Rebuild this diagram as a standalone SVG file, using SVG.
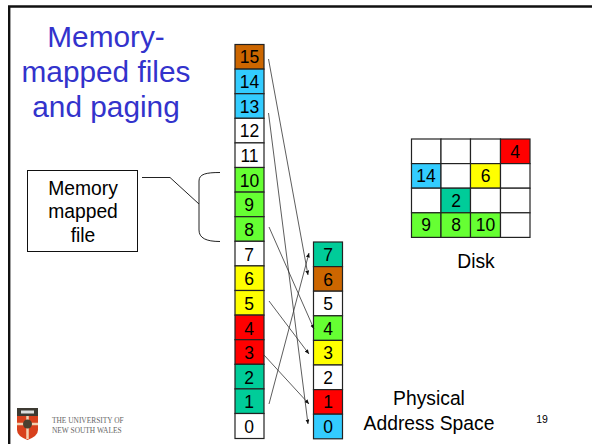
<svg xmlns="http://www.w3.org/2000/svg" width="592" height="444" viewBox="0 0 592 444">
<style>
text{font-family:"Liberation Sans",Arial,sans-serif;text-anchor:middle;fill:#000}
.n{font-size:17.5px}
.c{stroke:#222;stroke-width:1.2}
.k{fill:none;stroke:#222;stroke-width:1}
.t{font-size:29.8px;fill:#3333cc}
.l{font-size:19.3px}
.s{font-family:"Liberation Serif",serif;font-size:7.4px;fill:#666;text-anchor:start}
.a{fill:none;stroke:#333;stroke-width:.8;marker-end:url(#ah)}
.o{fill:#cc6600}.b{fill:#33ccff}.w{fill:#fff}.g{fill:#66ff33}.y{fill:#ffff00}.r{fill:#ff0000}.e{fill:#00cc99}
</style>
<defs>
<marker id="ah" markerWidth="5" markerHeight="5" refX="4.500" refY="2" orient="auto" markerUnits="userSpaceOnUse"><path d="M0 0L4.500 2L0 4z" fill="#111"/></marker>
</defs>
<rect width="592" height="444" fill="#fff"/>
<g id="frame"><path d="M592 6.500H9.200V444" fill="none" stroke="#111" stroke-width="2.400"/></g>
<g id="title">
<text class="t" x="106" y="47">Memory-</text>
<text class="t" x="106" y="82">mapped files</text>
<text class="t" x="106" y="117">and paging</text>
</g>
<g id="virtual-pages">
<g id="v15"><rect class="c o" x="235" y="44.500" width="29" height="24.600"/><text class="n" x="249.500" y="63">15</text></g>
<g id="v14"><rect class="c b" x="235" y="69.100" width="29" height="24.600"/><text class="n" x="249.500" y="88">14</text></g>
<g id="v13"><rect class="c b" x="235" y="93.700" width="29" height="24.600"/><text class="n" x="249.500" y="113">13</text></g>
<g id="v12"><rect class="c w" x="235" y="118.300" width="29" height="24.600"/><text class="n" x="249.500" y="137">12</text></g>
<g id="v11"><rect class="c w" x="235" y="142.900" width="29" height="24.600"/><text class="n" x="249.500" y="162">11</text></g>
<g id="v10"><rect class="c g" x="235" y="167.500" width="29" height="24.600"/><text class="n" x="249.500" y="187">10</text></g>
<g id="v9"><rect class="c g" x="235" y="192.100" width="29" height="24.600"/><text class="n" x="249" y="211">9</text></g>
<g id="v8"><rect class="c g" x="235" y="216.700" width="29" height="24.600"/><text class="n" x="249" y="236">8</text></g>
<g id="v7"><rect class="c w" x="235" y="241.300" width="29" height="24.600"/><text class="n" x="249" y="261">7</text></g>
<g id="v6"><rect class="c y" x="235" y="265.900" width="29" height="24.600"/><text class="n" x="249" y="285">6</text></g>
<g id="v5"><rect class="c y" x="235" y="290.500" width="29" height="24.600"/><text class="n" x="249" y="310">5</text></g>
<g id="v4"><rect class="c r" x="235" y="315.100" width="29" height="24.600"/><text class="n" x="249" y="335">4</text></g>
<g id="v3"><rect class="c r" x="235" y="339.700" width="29" height="24.600"/><text class="n" x="249" y="359">3</text></g>
<g id="v2"><rect class="c e" x="235" y="364.300" width="29" height="24.600"/><text class="n" x="249" y="384">2</text></g>
<g id="v1"><rect class="c e" x="235" y="388.900" width="29" height="24.600"/><text class="n" x="249" y="408">1</text></g>
<g id="v0"><rect class="c w" x="235" y="413.500" width="29" height="25"/><text class="n" x="249" y="433">0</text></g>
</g>
<g id="physical-pages">
<g id="p7"><rect class="c e" x="313.500" y="242" width="29" height="24.600"/><text class="n" x="328" y="261">7</text></g>
<g id="p6"><rect class="c o" x="313.500" y="266.600" width="29" height="24.600"/><text class="n" x="328" y="286">6</text></g>
<g id="p5"><rect class="c w" x="313.500" y="291.200" width="29" height="24.600"/><text class="n" x="328" y="310">5</text></g>
<g id="p4"><rect class="c g" x="313.500" y="315.800" width="29" height="24.600"/><text class="n" x="328" y="335">4</text></g>
<g id="p3"><rect class="c y" x="313.500" y="340.400" width="29" height="24.600"/><text class="n" x="328" y="359">3</text></g>
<g id="p2"><rect class="c w" x="313.500" y="365" width="29" height="24.600"/><text class="n" x="328" y="384">2</text></g>
<g id="p1"><rect class="c r" x="313.500" y="389.600" width="29" height="24.600"/><text class="n" x="328" y="408">1</text></g>
<g id="p0"><rect class="c b" x="313.500" y="414.200" width="29" height="24.600"/><text class="n" x="328" y="433">0</text></g>
</g>
<g id="disk">
<g id="d-r0"><rect class="c w" x="411.500" y="139" width="29.500" height="24.600"/><rect class="c w" x="441" y="139" width="29.500" height="24.600"/><rect class="c w" x="470.500" y="139" width="30" height="24.600"/><rect class="c r" x="500.500" y="139" width="29.500" height="24.600"/><text class="n" x="515" y="158">4</text></g>
<g id="d-r1"><rect class="c b" x="411.500" y="163.600" width="29.500" height="24.600"/><rect class="c w" x="441" y="163.600" width="29.500" height="24.600"/><rect class="c y" x="470.500" y="163.600" width="30" height="24.600"/><rect class="c w" x="500.500" y="163.600" width="29.500" height="24.600"/><text class="n" x="426" y="182">14</text><text class="n" x="485.500" y="182">6</text></g>
<g id="d-r2"><rect class="c w" x="411.500" y="188.200" width="29.500" height="24.600"/><rect class="c e" x="441" y="188.200" width="29.500" height="24.600"/><rect class="c w" x="470.500" y="188.200" width="30" height="24.600"/><rect class="c w" x="500.500" y="188.200" width="29.500" height="24.600"/><text class="n" x="456" y="207">2</text></g>
<g id="d-r3"><rect class="c g" x="411.500" y="212.800" width="29.500" height="24.600"/><rect class="c g" x="441" y="212.800" width="29.500" height="24.600"/><rect class="c g" x="470.500" y="212.800" width="30" height="24.600"/><rect class="c w" x="500.500" y="212.800" width="29.500" height="24.600"/><text class="n" x="426" y="231">9</text><text class="n" x="456" y="231">8</text><text class="n" x="485.500" y="231">10</text></g>
</g>
<g id="disk-label"><text class="l" x="476" y="268">Disk</text></g>
<g id="mmf-box"><rect x="27.500" y="170.500" width="110" height="81" fill="#fff" stroke="#111" stroke-width="1"/><text class="l" x="83" y="195">Memory</text><text class="l" x="83" y="218">mapped</text><text class="l" x="83" y="242">file</text></g>
<g id="connectors">
<path class="k" d="M142 177.500H170L199 204"/>
<path class="k" d="M220 172.500C206 172.500 199 174 199 181V230C199 238 206 241.500 220 241.500"/>
<path class="a" d="M268.500 59L308 275"/>
<path class="a" d="M268.500 113L308 424"/>
<path class="a" d="M269 227L314 329"/>
<path class="a" d="M269 301L309 354"/>
<path class="a" d="M264 355L309 404"/>
<path class="a" d="M269 404L309 253"/>
</g>
<g id="physical-label"><text class="l" x="429" y="405">Physical</text><text class="l" x="429" y="430">Address Space</text></g>
<g id="page-number"><text x="542" y="423" font-size="10.500">19</text></g>
<g id="logo">
<path d="M17 408H38V430Q38 436 27.500 440Q17 436 17 430Z" fill="#d8401c"/>
<rect x="17" y="408" width="21" height="8" fill="#3d3a32"/>
<rect x="21" y="410.500" width="13" height="3" fill="#ddd"/>
<path d="M17 424H38M27.500 416V439" stroke="#f3d0b0" stroke-width="2.500"/>
<circle cx="27.500" cy="424" r="4.500" fill="#4a4030"/>
<text class="s" x="52" y="423">THE UNIVERSITY OF</text>
<text class="s" x="52" y="433">NEW SOUTH WALES</text>
</g>
</svg>
